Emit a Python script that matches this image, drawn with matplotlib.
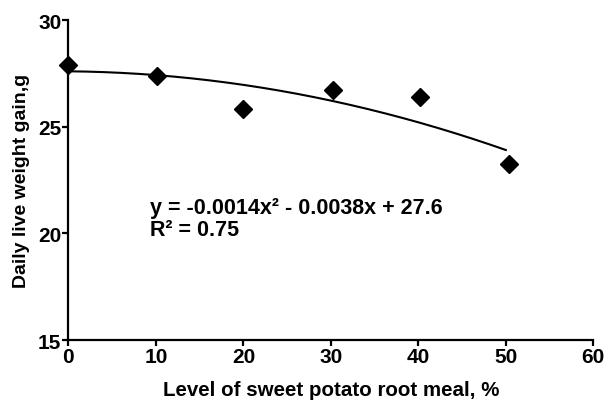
import numpy as np
import matplotlib.pyplot as plt

plt.rcParams['font.family'] = ['Liberation Sans', 'DejaVu Sans']

# sweet potato root meal level (%) vs daily live weight gain (g)
level = [0, 10.1, 20.0, 30.2, 40.2, 50.4]
gain = [27.9, 27.4, 25.85, 26.7, 26.4, 23.25]

# quadratic trend reported on the chart
coef = [-0.0014, -0.0038, 27.6]
r2 = 0.75
fit_range = [0, 50]

xticks = [0, 10, 20, 30, 40, 50, 60]
yticks = [15, 20, 25, 30]

fig = plt.figure(figsize=(6.11, 4.06), dpi=100)
ax = fig.add_axes([0.112, 0.160, 0.859, 0.788])

xs = np.linspace(fit_range[0], fit_range[1], 200)
ax.plot(xs, np.polyval(coef, xs), color='black', lw=1.5, zorder=2)
ax.plot(level, gain, 'D', color='black', ms=9, zorder=3, clip_on=False)

ax.set_xlim(0, 60)
ax.set_ylim(15, 30)
ax.set_xticks(xticks)
ax.set_yticks(yticks)

for s in ['top', 'right']:
    ax.spines[s].set_visible(False)
for s in ['left', 'bottom']:
    ax.spines[s].set_linewidth(1.6)
ax.tick_params(direction='out', length=4, width=1.6, labelsize=15, pad=1)
for lab in ax.get_xticklabels() + ax.get_yticklabels():
    lab.set_fontweight('bold')

ax.set_xlabel('Level of sweet potato root meal, %', fontsize=14.8, fontweight='bold', labelpad=10)
ax.set_ylabel('Daily live weight gain,g', fontsize=14, fontweight='bold', labelpad=6)

eq = f'y = {coef[0]:.4f}x\u00b2 - {abs(coef[1]):.4f}x + {coef[2]}\nR\u00b2 = {r2:.2f}'
ax.text(9.3, 20.7, eq, fontsize=15.5, fontweight='bold', va='center', ha='left', linespacing=1.12)

fig.savefig('out.png', dpi=100)
